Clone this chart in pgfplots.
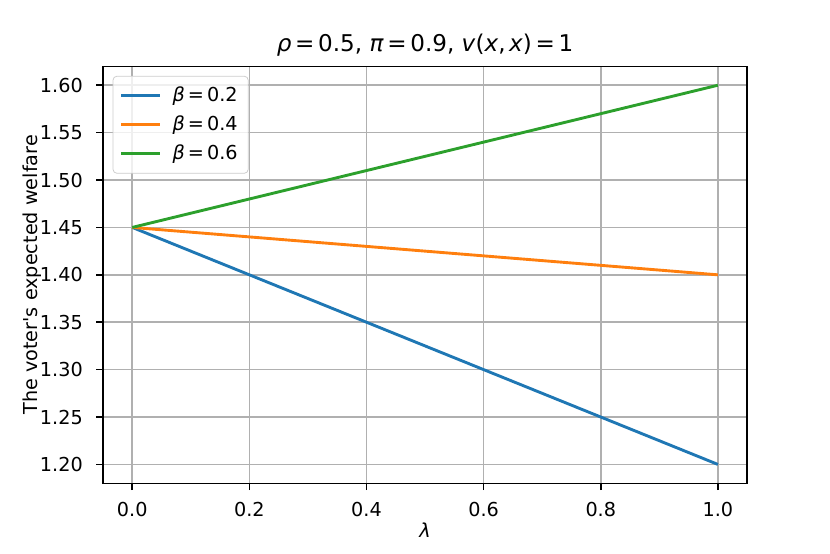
\documentclass[border=0pt]{standalone}
\usepackage{fontspec}
\setmainfont{DejaVu Sans}
\usepackage{pgfplots}
\pgfplotsset{compat=1.18}
\definecolor{tabblue}{HTML}{1F77B4}
\definecolor{taborange}{HTML}{FF7F0E}
\definecolor{tabgreen}{HTML}{2CA02C}
\definecolor{gridgray}{HTML}{B0B0B0}
\definecolor{legendedge}{HTML}{CCCCCC}
\newcommand{\eq}{\kern0.16em=\kern0.16em}

\begin{document}
\begin{tikzpicture}[x=1pt,y=1pt]
\path (0,0) rectangle (432,288);
\begin{axis}[
    at={(53.6pt,36.4pt)}, anchor=south west,
    scale only axis,
    width=335.3pt, height=217.1pt,
    xmin=-0.05, xmax=1.05,
    ymin=1.18, ymax=1.62,
    xtick={0,0.2,0.4,0.6,0.8,1.0},
    xticklabels={0.0,0.2,0.4,0.6,0.8,1.0},
    ytick={1.20,1.25,1.30,1.35,1.40,1.45,1.50,1.55,1.60},
    yticklabels={1.20,1.25,1.30,1.35,1.40,1.45,1.50,1.55,1.60},
    tick pos=left,
    tick align=outside,
    major tick length=3.5pt,
    tick style={black, line width=0.8pt},
    axis line style={black, line width=0.8pt},
    grid=major,
    grid style={gridgray, line width=0.8pt},
    font=\fontsize{10}{12}\selectfont,
    xticklabel style={yshift=-3pt},
    yticklabel style={xshift=-3.5pt},
    title={\textit{ρ}\eq 0.5, \textit{π}\eq 0.9, \textit{v}(\textit{x},\kern0.15em\textit{x})\eq 1},
    title style={font=\fontsize{12}{14}\selectfont, at={(0.5,1)}, anchor=base, yshift=1.5pt},
    xlabel={\textit{λ}},
    xlabel style={yshift=4pt},
    ylabel={The voter\textquotesingle s expected welfare},
    ylabel style={yshift=-7.5pt},
    legend cell align=left,
    legend style={at={(0.015,0.977)}, anchor=north west, draw=legendedge,
        rounded corners=2pt, fill=white, fill opacity=0.8, text opacity=1,
        font=\fontsize{10}{12}\selectfont, row sep=2pt, column sep=4pt, inner sep=3.5pt},
    legend image code/.code={\draw[#1, line width=1.5pt] (0pt,0pt) -- (20pt,0pt);},
]
\addplot[tabblue, line width=1.5pt] coordinates {(0,1.45) (0.2,1.40) (0.4,1.35) (0.6,1.30) (0.8,1.25) (1.0,1.20)};
\addplot[taborange, line width=1.5pt] coordinates {(0,1.45) (0.2,1.44) (0.4,1.43) (0.6,1.42) (0.8,1.41) (1.0,1.40)};
\addplot[tabgreen, line width=1.5pt] coordinates {(0,1.45) (0.2,1.48) (0.4,1.51) (0.6,1.54) (0.8,1.57) (1.0,1.60)};
\legend{\textit{β}\eq 0.2, \textit{β}\eq 0.4, \textit{β}\eq 0.6}
\end{axis}
\end{tikzpicture}
\end{document}
